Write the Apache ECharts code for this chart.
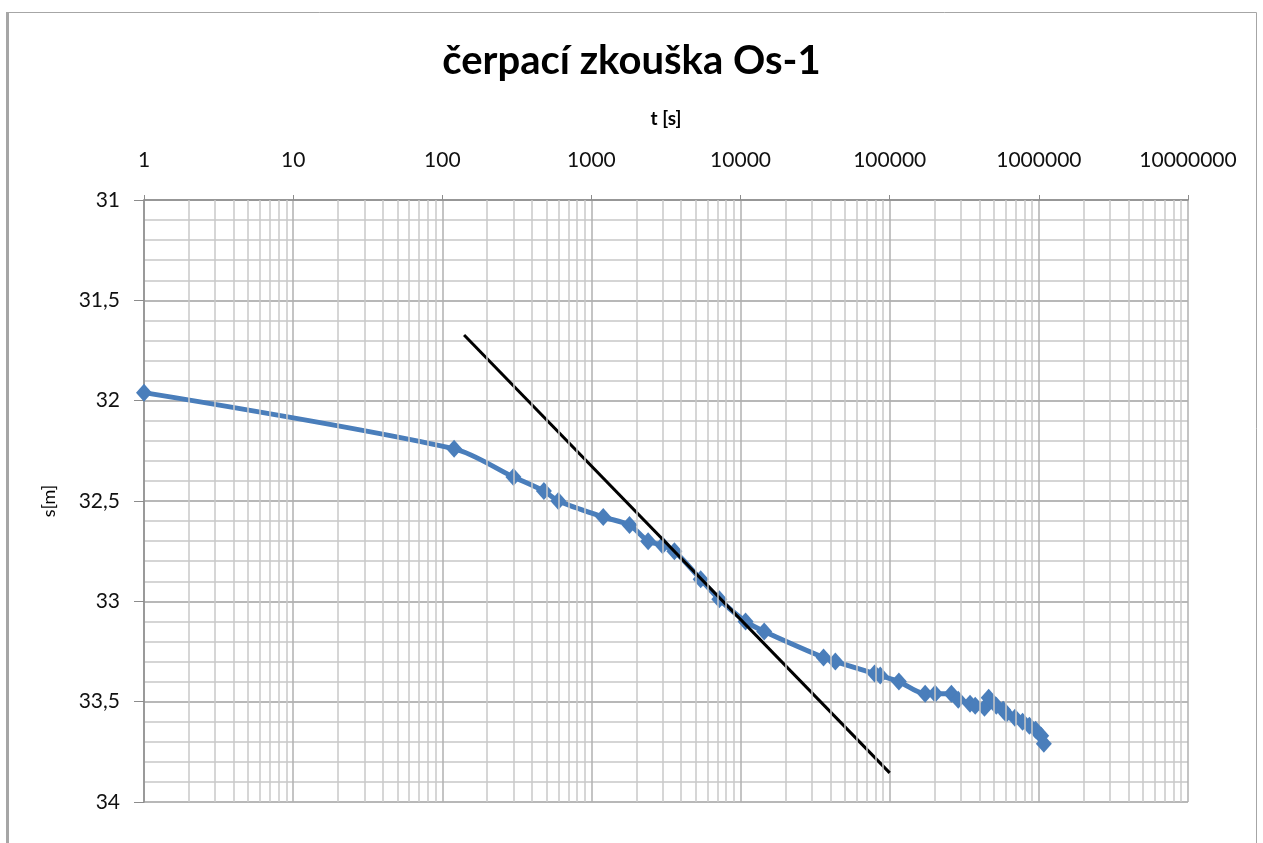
<!DOCTYPE html>
<html>
<head>
<meta charset="utf-8">
<title>čerpací zkouška Os-1</title>
<script src="https://cdn.jsdelivr.net/npm/echarts@6/dist/echarts.min.js"></script>
<style>
	html, body { margin: 0; padding: 0; background: #fff; }
	#chart { width: 1263px; height: 843px; }
</style>
</head>
<body>
<div id="chart"></div>
<script>
// cas t [s] a snizeni s [m]
var casT = [1, 120, 300, 480, 600, 1200, 1800, 2400, 3000, 3600, 5400, 7200, 10800, 14400,
	36000, 43200, 79200, 86400, 115200, 172800, 201600, 259200, 288000, 345600, 374400,
	432000, 460800, 518400, 576000, 604800, 691200, 777600, 864000, 950400, 1036800, 1080000];
var snizeniS = [31.96, 32.24, 32.38, 32.45, 32.50, 32.58, 32.62, 32.70, 32.72, 32.75, 32.89, 32.99, 33.10, 33.15,
	33.28, 33.30, 33.36, 33.37, 33.40, 33.46, 33.46, 33.46, 33.49, 33.51, 33.52,
	33.53, 33.48, 33.52, 33.54, 33.56, 33.58, 33.60, 33.62, 33.64, 33.67, 33.71];
// primka (Jacob)
var primkaT = [140, 100000];
var primkaS = [31.673, 33.855];

var xLabels = ['1', '10', '100', '1000', '10000', '100000', '1000000', '10000000'];

// vedlejsi svisle mrizky 2..9 v kazde dekade
var minorX = [];
for (var k = 0; k < 7; k++) {
	for (var m = 2; m <= 9; m++) {
		minorX.push({ xAxis: m * Math.pow(10, k) });
	}
}

var myChart = echarts.init(document.getElementById('chart'));
var option = {
	backgroundColor: '#fff',
	animation: false,
	title: {
		text: 'čerpací zkouška Os-1',
		left: 'center',
		top: 36,
		textStyle: {
			fontFamily: 'Lato',
			fontSize: 40,
			fontWeight: 'bold',
			color: '#000'
		}
	},
	graphic: [
		{
			type: 'rect',
			shape: { x: 7.5, y: 12.5, width: 1249, height: 840 },
			style: { fill: 'none', stroke: '#a6a6a6', lineWidth: 1 },
			silent: true
		},
		{
			type: 'line',
			shape: { x1: 7.5, y1: 12, x2: 7.5, y2: 843 },
			style: { stroke: '#a6a6a6', lineWidth: 3 },
			silent: true
		}
	],
	grid: {
		left: 144,
		right: 75,
		top: 200,
		bottom: 41
	},
	xAxis: {
		type: 'log',
		logBase: 10,
		min: 1,
		max: 10000000,
		position: 'top',
		name: 't [s]',
		nameLocation: 'middle',
		nameGap: 72,
		nameTextStyle: {
			fontFamily: 'Lato',
			fontSize: 19,
			fontWeight: 'bold',
			color: '#000'
		},
		axisLine: { lineStyle: { color: '#8c8c8c', width: 1.5 } },
		axisTick: { show: true, length: 5, lineStyle: { color: '#8c8c8c' } },
		axisLabel: {
			margin: 29,
			fontFamily: 'Lato',
			fontSize: 21,
			color: '#111',
			formatter: function (v) {
				var i = Math.round(Math.log10(v));
				return xLabels[i] || '';
			}
		},
		splitLine: { show: true, lineStyle: { color: '#b0b0b0', width: 1.5 } }
	},
	yAxis: {
		type: 'value',
		inverse: true,
		min: 31,
		max: 34,
		interval: 0.5,
		name: 's[m]',
		nameLocation: 'middle',
		nameGap: 86,
		nameRotate: 90,
		nameTextStyle: {
			fontFamily: 'Lato',
			fontSize: 18,
			color: '#000'
		},
		axisLine: { show: true, lineStyle: { color: '#8c8c8c', width: 1.5 } },
		axisTick: { show: true, length: 10, lineStyle: { color: '#8c8c8c' } },
		axisLabel: {
			margin: 24,
			fontFamily: 'Lato',
			fontSize: 21,
			color: '#111',
			formatter: function (v) {
				return String(v).replace('.', ',');
			}
		},
		splitLine: { show: true, lineStyle: { color: '#a0a0a0', width: 1.5 } },
		minorTick: { show: false, splitNumber: 5 },
		minorSplitLine: { show: true, lineStyle: { color: '#c8c8c8', width: 1.5 } }
	},
	series: [
		{
			// pomocna serie jen pro vedlejsi svisle mrizky
			type: 'line',
			data: [],
			silent: true,
			z: 1,
			markLine: {
				silent: true,
				symbol: 'none',
				label: { show: false },
				lineStyle: { type: 'solid', color: '#c8c8c8', width: 1.5 },
				data: minorX,
				animation: false
			}
		},
		{
			name: 'mereni',
			type: 'line',
			data: casT.map(function (t, i) { return [t, snizeniS[i]]; }),
			smooth: 0.3,
			symbol: 'diamond',
			symbolSize: [16, 18],
			z: 3,
			lineStyle: { color: '#4a7ebb', width: 5 },
			itemStyle: { color: '#4a7ebb' }
		},
		{
			name: 'primka',
			type: 'line',
			data: primkaT.map(function (t, i) { return [t, primkaS[i]]; }),
			showSymbol: false,
			symbol: 'none',
			z: 4,
			lineStyle: { color: '#000', width: 3 }
		}
	]
};
myChart.setOption(option);
</script>
</body>
</html>
